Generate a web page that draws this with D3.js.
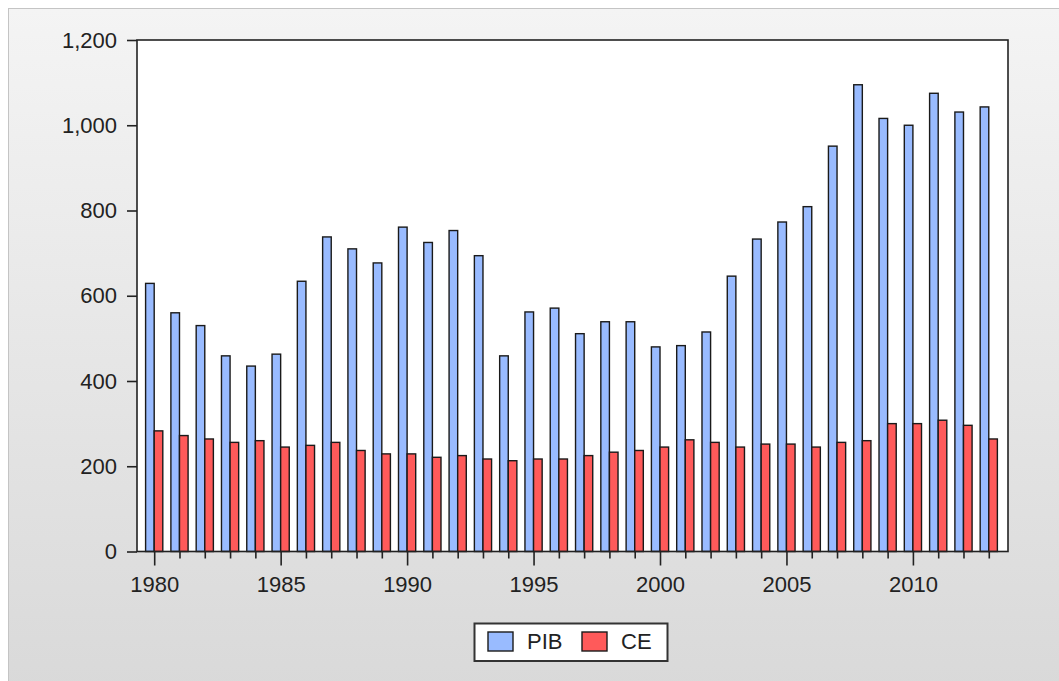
<!DOCTYPE html>
<html>
<head>
<meta charset="utf-8">
<script src="https://cdn.jsdelivr.net/npm/d3@7"></script>
<style>
  body { margin: 0; background: #fff; }
  svg { display: block; font-family: "Liberation Sans", Arial, sans-serif; }
</style>
</head>
<body>
<div id="chart"></div>
<script>
var years = d3.range(1980, 2014);
var pib = [629, 560, 530, 459, 435, 463, 634, 738, 710, 677, 761, 725, 753, 694, 459, 562, 571, 511, 539, 539,
           480, 483, 515, 646, 733, 773, 809, 951, 1095, 1016, 1000, 1075, 1031, 1043];
var ce = [283, 272, 264, 256, 260, 245, 249, 256, 237, 229, 229, 221, 225, 217, 213, 217, 217, 225, 233, 237,
          245, 262, 256, 245, 252, 252, 245, 256, 260, 300, 300, 308, 296, 264];
var seriesNames = ["PIB", "CE"];
var seriesColors = ["#99bbff", "#ff5a5a"];
var yTicks = [0, 200, 400, 600, 800, 1000, 1200];

var W = 1059, H = 681;
var plot = {left: 137, right: 1008, top: 40, bottom: 551.5};

var svg = d3.select("#chart").append("svg")
    .attr("width", W)
    .attr("height", H);

var grad = svg.append("defs").append("linearGradient")
    .attr("id", "bg")
    .attr("x1", 0).attr("y1", 0).attr("x2", 0).attr("y2", 1);
grad.append("stop").attr("offset", "0%").attr("stop-color", "#f4f4f4");
grad.append("stop").attr("offset", "100%").attr("stop-color", "#d9d9d9");

// frame
svg.append("rect")
    .attr("x", 8.5).attr("y", 8.5)
    .attr("width", W).attr("height", H)
    .attr("fill", "url(#bg)")
    .attr("stroke", "#c4c4c4");

var x = d3.scaleLinear()
    .domain([1979.32, 2013.76])
    .range([plot.left, plot.right]);

var y = d3.scaleLinear()
    .domain([0, 1200])
    .range([plot.bottom, plot.top]);

var barW = 8.6;

svg.append("rect")
    .attr("x", plot.left).attr("y", plot.top)
    .attr("width", plot.right - plot.left)
    .attr("height", plot.bottom - plot.top)
    .attr("fill", "#fff");

var series = [pib, ce];
series.forEach(function(vals, s) {
  svg.append("g")
    .selectAll("rect")
    .data(vals)
    .enter().append("rect")
      .attr("x", function(d, i) { return x(years[i]) - barW + s * barW; })
      .attr("y", function(d) { return y(d); })
      .attr("width", barW)
      .attr("height", function(d) { return y(0) - y(d); })
      .attr("fill", seriesColors[s])
      .attr("stroke", "#1a1a1a")
      .attr("stroke-width", 1.4);
});

// plot border
svg.append("rect")
    .attr("x", plot.left).attr("y", plot.top)
    .attr("width", plot.right - plot.left)
    .attr("height", plot.bottom - plot.top)
    .attr("fill", "none")
    .attr("stroke", "#222")
    .attr("stroke-width", 1.6);

// y axis
var yAxis = svg.append("g")
    .attr("transform", "translate(" + plot.left + ",0)")
    .call(d3.axisLeft(y).tickValues(yTicks).tickSize(10).tickPadding(10)
      .tickFormat(d3.format(",")));
yAxis.select(".domain").remove();
yAxis.selectAll("line").attr("stroke", "#222").attr("stroke-width", 1.6);
yAxis.selectAll("text")
    .attr("font-size", 22)
    .attr("font-family", "Liberation Sans, Arial, sans-serif")
    .attr("fill", "#222");

// x axis
var xAxis = svg.append("g")
    .attr("transform", "translate(0," + plot.bottom + ")")
    .call(d3.axisBottom(x).tickValues(years).tickSize(7)
      .tickFormat(function(d) { return d % 5 === 0 ? d : ""; }));
xAxis.select(".domain").remove();
xAxis.selectAll("line")
    .attr("stroke", "#222")
    .attr("stroke-width", 1.6)
    .attr("y2", function(d) { return d % 5 === 0 ? 14 : 7; });
xAxis.selectAll("text")
    .attr("y", 25)
    .attr("font-size", 22)
    .attr("font-family", "Liberation Sans, Arial, sans-serif")
    .attr("fill", "#222");

// legend
var legend = svg.append("g");
legend.append("rect")
    .attr("x", 474.5).attr("y", 623.5)
    .attr("width", 193).attr("height", 37.5)
    .attr("fill", "#fff")
    .attr("stroke", "#333")
    .attr("stroke-width", 2);
var swX = [488, 582];
seriesNames.forEach(function(name, i) {
  legend.append("rect")
      .attr("x", swX[i]).attr("y", 632)
      .attr("width", 25).attr("height", 19)
      .attr("fill", seriesColors[i])
      .attr("stroke", "#1a1a1a")
      .attr("stroke-width", 1.4);
  legend.append("text")
      .attr("x", swX[i] + 39).attr("y", 649)
      .attr("font-size", 22)
      .attr("fill", "#222")
      .text(name);
});
</script>
</body>
</html>
